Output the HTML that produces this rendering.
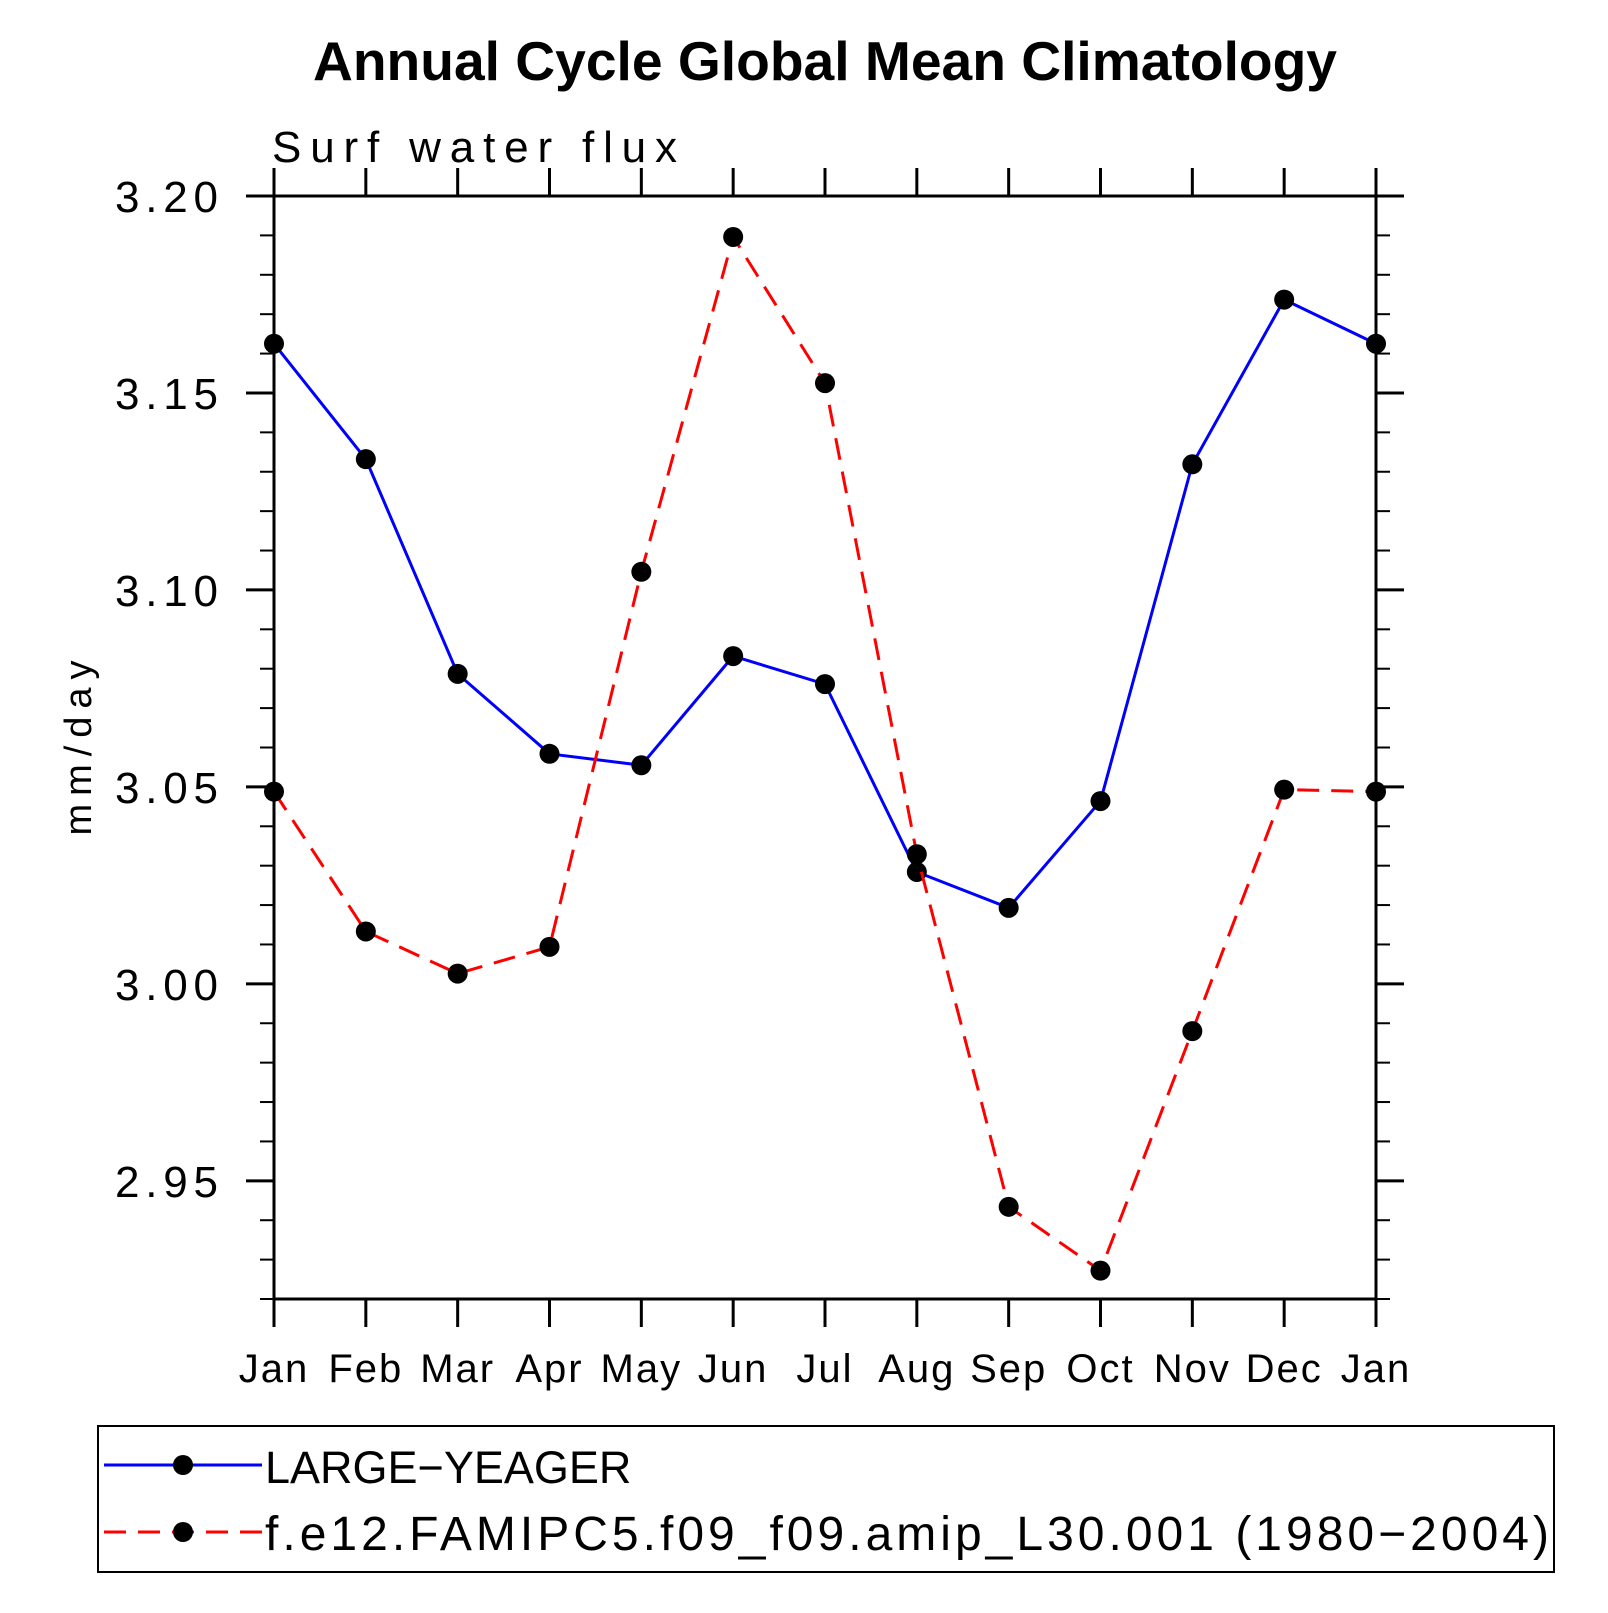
<!DOCTYPE html>
<html><head><meta charset="utf-8"><style>
html,body{margin:0;padding:0;background:#fff;}
svg text{font-family:"Liberation Sans",sans-serif;}
</style></head><body>
<svg id="chart" width="1608" height="1608" viewBox="0 0 1608 1608" xmlns="http://www.w3.org/2000/svg">
<text x="313" y="80" font-size="55" font-weight="bold" textLength="1024" lengthAdjust="spacingAndGlyphs">Annual Cycle Global Mean Climatology</text>
<text x="272" y="162" font-size="44" textLength="405" lengthAdjust="spacing">Surf  water  flux</text>
<text x="0" y="0" font-size="38" text-anchor="middle" textLength="175" lengthAdjust="spacing" transform="translate(91,748) rotate(-90)">mm/day</text>
<g id="axes"></g>
<g id="series"></g>
<rect x="98" y="1426" width="1456" height="146" fill="none" stroke="#000" stroke-width="2"/>
<g>
<line x1="104" y1="1465" x2="262" y2="1465" stroke="#00f" stroke-width="3"/>
<circle cx="183" cy="1465" r="10"/>
<text x="265" y="1483" font-size="45">LARGE−YEAGER</text>
</g>
<g>
<line x1="104" y1="1532" x2="262" y2="1532" stroke="#f00" stroke-width="3" stroke-dasharray="22,12"/>
<circle cx="183" cy="1532" r="10"/>
<text x="265" y="1550" font-size="48" textLength="1284" lengthAdjust="spacing">f.e12.FAMIPC5.f09_f09.amip_L30.001 (1980−2004)</text>
</g>
</svg>
<script>
const months = ["Jan","Feb","Mar","Apr","May","Jun","Jul","Aug","Sep","Oct","Nov","Dec","Jan"];
const largeYeager = [3.1625,3.1332,3.0787,3.0584,3.0555,3.0832,3.0761,3.0284,3.0193,3.0464,3.1319,3.1737,3.1625];
const famipc5 = [3.0488,3.0133,3.0026,3.0094,3.1046,3.1896,3.1525,3.0329,2.9434,2.9272,2.9880,3.0493,3.0488];
const yTickLabels = ["2.95","3.00","3.05","3.10","3.15","3.20"];
const yMin = 2.92, yMax = 3.20;
const L=274,R=1376,T=196,B=1299;
const NS="http://www.w3.org/2000/svg";
const xs=i=>L+(R-L)*i/(months.length-1);
const ys=v=>B-(B-T)*(v-yMin)/(yMax-yMin);
function mk(tag,attrs,parent){const e=document.createElementNS(NS,tag);for(const k in attrs)e.setAttribute(k,attrs[k]);parent.appendChild(e);return e;}
const ax=document.getElementById('axes');
const frame=mk('rect',{x:L,y:T,width:R-L,height:B-T,fill:'none',stroke:'#000','stroke-width':3},ax);


months.forEach((m,i)=>{
  const x=xs(i);
  mk('line',{x1:x,y1:T,x2:x,y2:T-28,stroke:'#000','stroke-width':3},ax);
  mk('line',{x1:x,y1:B,x2:x,y2:B+28,stroke:'#000','stroke-width':3},ax);
  const t=mk('text',{x:x,y:1382,'text-anchor':'middle','font-size':40,'letter-spacing':2},ax);
  t.textContent=m;
  
  
});
for(let k=0;k<=28;k++){
  const v=yMin+k*0.01, y=ys(v);
  const major=(k%5===3);
  const len=major?28:14;
  mk('line',{x1:L,y1:y,x2:L-len,y2:y,stroke:'#000','stroke-width':major?3:2},ax);
  mk('line',{x1:R,y1:y,x2:R+len,y2:y,stroke:'#000','stroke-width':major?3:2},ax);
}
yTickLabels.forEach(s=>{
  const y=ys(parseFloat(s));
  const t=mk('text',{x:115,y:y+16,'font-size':44,textLength:103,lengthAdjust:'spacing'},ax);
  t.textContent=s;
  
  
});
const sg=document.getElementById('series');
function drawSeries(vals,color,dash,name){
  const pts=vals.map((v,i)=>xs(i)+','+ys(v)).join(' ');
  const pl=mk('polyline',{points:pts,fill:'none',stroke:color,'stroke-width':3},sg);
  if(dash)pl.setAttribute('stroke-dasharray',dash);
  
  
  vals.forEach((v,i)=>{
    const c=mk('circle',{cx:xs(i),cy:ys(v),r:10,fill:'#000'},sg);
    
    
  });
}
drawSeries(largeYeager,'#00f',null,'large-yeager');
drawSeries(famipc5,'#f00','22,12','famipc5');
</script>
</body></html>
